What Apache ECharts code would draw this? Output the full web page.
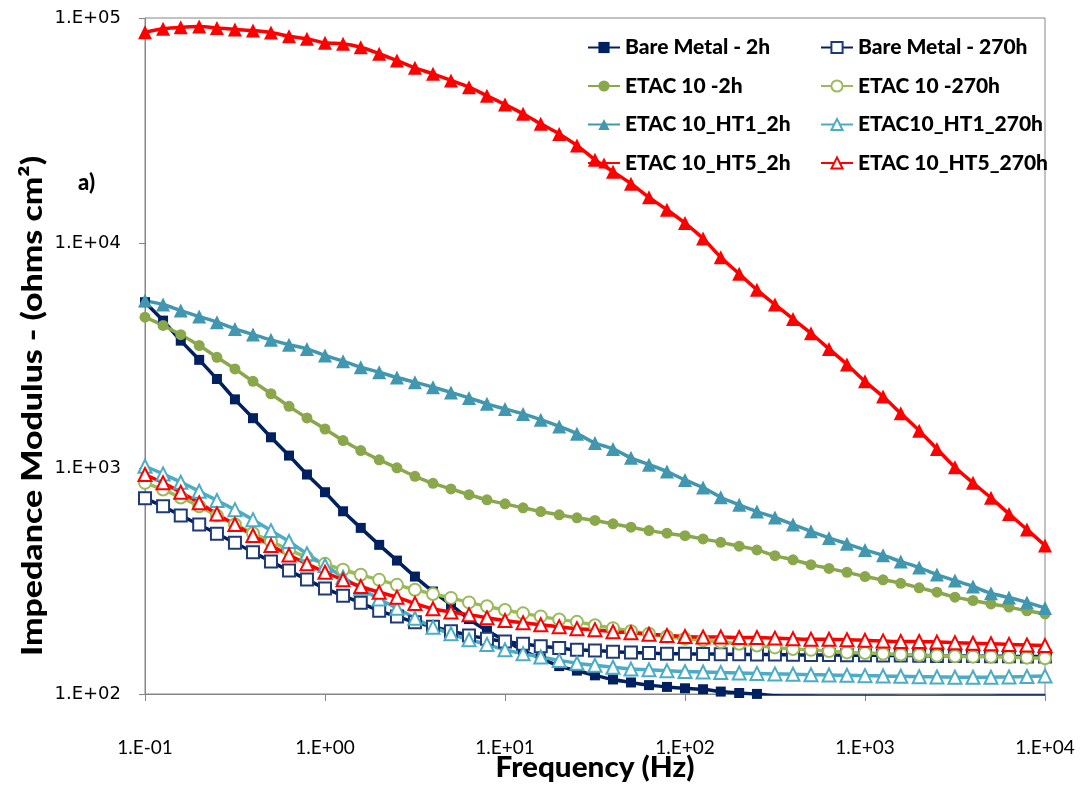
<!DOCTYPE html>
<html>
<head>
<meta charset="utf-8">
<script src="https://cdn.jsdelivr.net/npm/echarts@6/dist/echarts.min.js"></script>
<style>
  html, body { margin: 0; padding: 0; background: #fff; }
  #chart { width: 1083px; height: 787px; }
</style>
</head>
<body>
<div id="chart"></div>
<script>
// frequencies (Hz), 10 points per decade
var freq = [0.1, 0.126, 0.158, 0.2, 0.251, 0.316, 0.398, 0.501, 0.631, 0.794,
  1, 1.26, 1.58, 2, 2.51, 3.16, 3.98, 5.01, 6.31, 7.94,
  10, 12.6, 15.8, 20, 25.1, 31.6, 39.8, 50.1, 63.1, 79.4,
  100, 126, 158, 200, 251, 316, 398, 501, 631, 794,
  1000, 1260, 1580, 2000, 2510, 3160, 3980, 5010, 6310, 7940, 10000];

var xTickLabels = ['1.E-01', '1.E+00', '1.E+01', '1.E+02', '1.E+03', '1.E+04'];
var yTickLabels = ['1.E+02', '1.E+03', '1.E+04', '1.E+05'];

var seriesNames = ['Bare Metal - 2h', 'Bare Metal - 270h', 'ETAC 10 -2h', 'ETAC 10 -270h',
  'ETAC 10_HT1_2h', 'ETAC10_HT1_270h', 'ETAC 10_HT5_2h', 'ETAC 10_HT5_270h'];

// impedance modulus (ohms cm2)
var bareMetal2h = [5480, 4540, 3700, 3040, 2500, 2030, 1675, 1378, 1143, 942,
  786, 647, 546, 459, 391, 332, 285, 249, 215, 191,
  173, 156, 144, 133, 127, 121, 116, 112.5, 109.5, 107.5,
  106, 105, 102.5, 101, 100.1, 98.2, 98.0, 97.9, 97.8, 97.8,
  97.7, 97.7, 97.6, 97.6, 97.6, 97.7, 97.7, 97.8, 97.9, 97.9, 98.0];
var bareMetal270h = [739, 681, 619, 565, 514, 469, 426, 387, 353, 322,
  294, 273, 254, 234, 221, 208, 199, 190, 182, 176,
  171, 167, 163, 160, 157, 156, 154, 153, 152, 151,
  150.7, 150.5, 150.2, 150.1, 149.7, 149.6, 149.2, 149.1, 148.9, 148.6,
  148.6, 148.3, 148.1, 148.0, 147.6, 147.5, 147.3, 147.1, 146.9, 146.8, 146.6];
var etac2h = [4700, 4320, 3930, 3520, 3120, 2770, 2440, 2150, 1890, 1680,
  1500, 1333, 1203, 1094, 1009, 925, 861, 813, 767, 727,
  698, 670, 645, 624, 605, 589, 569, 550, 531, 517,
  504, 488, 471, 453, 436, 411, 394, 375, 361, 347,
  332, 321, 310, 296, 283, 269, 260, 251, 243, 234, 227];
var etac270h = [865, 808, 745, 681, 619, 565, 517, 475, 436, 404,
  378, 356, 338, 321, 305, 290, 278, 267, 255, 245,
  236, 228, 221, 214, 209, 202, 196, 190, 185, 180,
  176, 173, 170, 167, 164, 161, 158.5, 157, 155, 153,
  152, 151, 149.6, 149, 148, 147, 146.5, 146.5, 145.6, 145, 144];
var ht1_2h = [5570, 5350, 5030, 4730, 4470, 4170, 3940, 3730, 3550, 3400,
  3180, 3000, 2820, 2680, 2540, 2420, 2300, 2180, 2060, 1940,
  1840, 1750, 1650, 1540, 1430, 1300, 1224, 1117, 1042, 971,
  891, 824, 747, 691, 645, 607, 565, 527, 493, 464,
  436, 413, 387, 364, 339, 319, 300, 280, 268, 255, 241];
var ht1_270h = [1025, 948, 871, 794, 722, 658, 594, 531, 475, 419,
  372, 330, 294, 264, 240, 217, 198, 185, 174, 166,
  157, 151, 146, 141, 137, 134, 131.5, 129, 128, 126.7,
  125.7, 125.3, 124.6, 124, 123.4, 122.8, 122.3, 121.8, 121.4, 121,
  120.6, 120.2, 119.8, 119.4, 119, 118.7, 118.6, 118.7, 119.1, 119.6, 120.2];
var ht5_2h = [86500, 89500, 91000, 91700, 90400, 88900, 88000, 86300, 83000, 80900,
  77600, 76800, 74200, 69400, 64700, 60100, 56500, 52800, 49300, 45200,
  41300, 37600, 33900, 30600, 27200, 23500, 20800, 18400, 16000, 14100,
  12300, 10500, 8680, 7320, 6220, 5350, 4620, 3990, 3400, 2900,
  2440, 2090, 1760, 1475, 1224, 1014, 865, 742, 630, 537, 456];
var ht5_270h = [942, 865, 786, 705, 630, 565, 505, 456, 414, 378,
  347, 321, 300, 283, 269, 252, 239, 231, 225, 218,
  212, 207, 203, 199, 195, 193, 189, 187, 184, 182,
  180, 179, 179, 178, 178, 177, 176, 175, 175, 174,
  173, 172, 171, 171, 170, 169, 168, 167, 166, 165, 164];

var seriesValues = [bareMetal2h, bareMetal270h, etac2h, etac270h, ht1_2h, ht1_270h, ht5_2h, ht5_270h];
var seriesColors = ['#002060', '#1F3A78', '#8AA84B', '#9BBB59', '#4197B0', '#4BACC6', '#FF0000', '#FF0000'];
var seriesSymbols = ['rect', 'emptyRect', 'circle', 'emptyCircle', 'triangle', 'emptyTriangle', 'triangle', 'emptyTriangle'];
var symbolSizes = [10, 12, 11, 12, 14, 13, 14, 13];
var lineColors = ['#002060', '#002060', '#8AA84B', '#9BBB59', '#4197B0', '#4BACC6', '#FF0000', '#FF0000'];

function expOf(v) {
  return Math.round(Math.log(v) / Math.LN10);
}

var chart = echarts.init(document.getElementById('chart'), null, { renderer: 'canvas' });

var series = seriesNames.map(function (name, i) {
  return {
    name: name,
    type: 'line',
    smooth: 0.3,
    symbol: seriesSymbols[i],
    symbolSize: symbolSizes[i],
    showAllSymbol: true,
    clip: true,
    itemStyle: { color: seriesColors[i], borderWidth: 1.5 },
    lineStyle: { color: lineColors[i], width: 3.5 },
    emphasis: { disabled: true },
    data: freq.map(function (f, k) { return [f, seriesValues[i][k]]; })
  };
});

var legendText = { fontFamily: 'Lato', fontWeight: 900, fontSize: 21, color: '#000', lineHeight: 21 };

chart.setOption({
  animation: false,
  backgroundColor: '#fff',
  grid: {
    left: 145, top: 18, width: 900, height: 676,
    show: true, borderColor: '#868686', borderWidth: 1
  },
  legend: [
    {
      orient: 'vertical', left: 587, top: 37, itemGap: 17.5, padding: 0,
      itemWidth: 32, itemHeight: 14,
      data: [seriesNames[0], seriesNames[2], seriesNames[4], seriesNames[6]],
      textStyle: legendText
    },
    {
      orient: 'vertical', left: 820, top: 37, itemGap: 17.5, padding: 0,
      itemWidth: 32, itemHeight: 14,
      data: [seriesNames[1], seriesNames[3], seriesNames[5], seriesNames[7]],
      textStyle: legendText
    }
  ],
  xAxis: {
    type: 'log', logBase: 10, min: 0.1, max: 10000,
    axisLine: { lineStyle: { color: '#868686', width: 1 } },
    axisTick: { show: true, length: 7, lineStyle: { color: '#868686' } },
    splitLine: { show: false },
    minorTick: { show: false },
    axisLabel: {
      margin: 44, color: '#000',
      formatter: function (v) { return '{t|' + xTickLabels[expOf(v) + 1] + '}'; },
      rich: { t: { fontFamily: 'Lato', fontSize: 19, color: '#000', lineHeight: 20 } }
    }
  },
  yAxis: {
    type: 'log', logBase: 10, min: 100, max: 100000,
    axisLine: { show: true, lineStyle: { color: '#868686', width: 1 } },
    axisTick: { show: true, length: 6, lineStyle: { color: '#868686' } },
    splitLine: { show: false },
    minorTick: { show: false },
    axisLabel: {
      margin: 24, color: '#000',
      formatter: function (v) { return '{t|' + yTickLabels[expOf(v) - 2] + '}'; },
      rich: { t: { fontFamily: 'DejaVu Sans', fontSize: 18, color: '#000', lineHeight: 20 } }
    }
  },
  graphic: [
    {
      type: 'text', x: 595, y: 768, scaleX: 1.06,
      style: {
        text: 'Frequency (Hz)', x: 0, y: 0, align: 'center', verticalAlign: 'middle',
        font: '900 28px Lato', fill: '#000'
      }
    },
    {
      type: 'text', x: 33, y: 406, rotation: Math.PI / 2, scaleX: 1.21,
      style: {
        text: 'Impedance Modulus - (ohms cm²)', x: 0, y: 0, align: 'center', verticalAlign: 'middle',
        font: '900 28px Lato', fill: '#000'
      }
    },
    {
      type: 'text', x: 78, y: 183,
      style: {
        text: 'a)', x: 0, y: 0, align: 'left', verticalAlign: 'middle',
        font: '900 22px Lato', fill: '#000'
      }
    }
  ],
  series: series
});
</script>
</body>
</html>
